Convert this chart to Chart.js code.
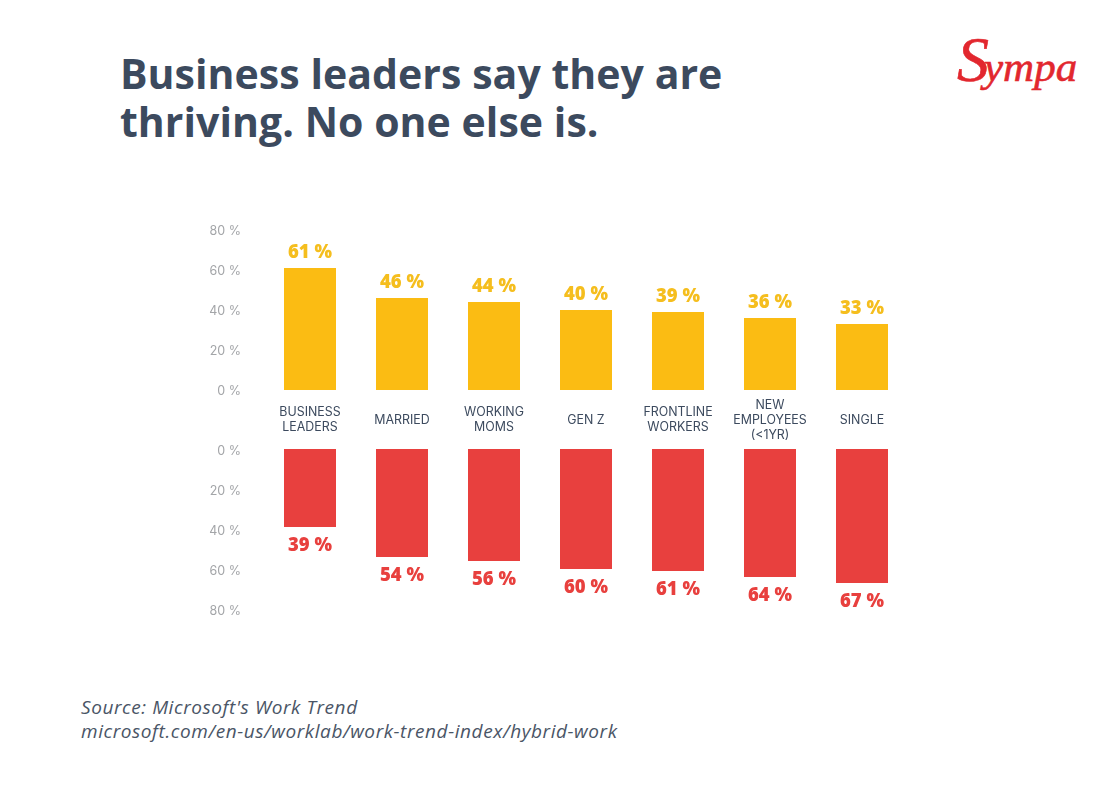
<!DOCTYPE html>
<html>
<head>
<meta charset="utf-8">
<title>Business leaders say they are thriving</title>
<script src="https://cdn.jsdelivr.net/npm/chart.js@4/dist/chart.umd.min.js"></script>
<style>
  html, body { margin: 0; padding: 0; background: #fff; }
  body { position: relative; width: 1118px; height: 801px; overflow: hidden; }
  canvas { position: absolute; left: 190px; }
  #chartTop { top: 220px; }
  #chartBottom { top: 439px; }
  h1 {
    position: absolute; left: 120px; top: 49px; margin: 0;
    font: 700 41px/48px "Open Sans", sans-serif; color: #3c4a5e;
    letter-spacing: 0.05px;
  }
  .logo {
    position: absolute; left: 957px; top: 30px;
    font: italic 400 43px/60px "Liberation Serif", serif; color: #e2272e;
    -webkit-text-stroke: 0.6px #e2272e;
    white-space: nowrap;
  }
  .logo span { font-size: 64px; margin-right: -5px; }
  .source {
    position: absolute; left: 81px; top: 695px;
    font: italic 400 19px/24px "Open Sans", sans-serif; color: #4a5566;
    letter-spacing: 0.58px;
  }
</style>
</head>
<body>
<h1>Business leaders say they are<br>thriving. No one else is.</h1>
<div class="logo"><span>S</span>ympa</div>
<canvas id="chartTop" width="730" height="220"></canvas>
<canvas id="chartBottom" width="730" height="180"></canvas>
<div class="source">Source: Microsoft's Work Trend<br>microsoft.com/en-us/worklab/work-trend-index/hybrid-work</div>

<script>
const categories = [
  ["BUSINESS", "LEADERS"],
  ["MARRIED"],
  ["WORKING", "MOMS"],
  ["GEN Z"],
  ["FRONTLINE", "WORKERS"],
  ["NEW", "EMPLOYEES", "(<1YR)"],
  ["SINGLE"],
];
const topValues = [61, 46, 44, 40, 39, 36, 33];
const bottomValues = [39, 54, 56, 60, 61, 64, 67];
const tickValues = [0, 20, 40, 60, 80];

const YELLOW = "#fbbc13";
const YELLOW_TEXT = "#f5be1e";
const RED = "#e8403e";

// value labels sit just past the end of each bar
const valueLabels = {
  id: "valueLabels",
  afterDatasetsDraw(chart, args, opts) {
    const { ctx } = chart;
    const meta = chart.getDatasetMeta(0);
    ctx.save();
    ctx.font = '800 18.5px "Open Sans", sans-serif';
    ctx.fillStyle = opts.color;
    ctx.textAlign = "center";
    ctx.textBaseline = "middle";
    meta.data.forEach((bar, i) => {
      ctx.fillText(chart.data.datasets[0].data[i] + " %", bar.x, bar.y + opts.offset);
    });
    ctx.restore();
  },
};

// category names go in the gap between the charts, centred on y=420
const categoryLabels = {
  id: "categoryLabels",
  afterDraw(chart, args, opts) {
    if (!opts.show) return;
    const { ctx, scales } = chart;
    ctx.save();
    ctx.font = '400 12.4px "Inter", sans-serif';
    ctx.fillStyle = "#3c4a5e";
    ctx.textAlign = "center";
    ctx.textBaseline = "middle";
    categories.forEach((lines, i) => {
      const x = scales.x.getPixelForValue(i);
      const startY = opts.centerY - ((lines.length - 1) * 15) / 2;
      lines.forEach((line, j) => ctx.fillText(line, x, startY + j * 15));
    });
    ctx.restore();
  },
};

function makeChart(id, values, color, textColor, reverse, labelOffset, bottomPad, tickShift, showCategories) {
  return new Chart(document.getElementById(id), {
    type: "bar",
    data: {
      labels: categories.map((c) => c.join(" ")),
      datasets: [{
        data: values,
        backgroundColor: color,
        categoryPercentage: 1,
        barPercentage: 52 / 92,
      }],
    },
    plugins: [valueLabels, categoryLabels],
    options: {
      responsive: false,
      animation: false,
      layout: { padding: { top: 10, bottom: bottomPad, right: 12, left: 0 } },
      plugins: {
        legend: { display: false },
        tooltip: { enabled: false },
        valueLabels: { color: textColor, offset: labelOffset },
        categoryLabels: { show: showCategories, centerY: 200 },
      },
      scales: {
        x: { display: false },
        y: {
          reverse: reverse,
          min: 0,
          max: 80,
          // tick padding would otherwise also inset the plot vertically
          afterFit(scale) {
            scale.width = 74;
            scale.paddingTop = 0;
            scale.paddingBottom = 0;
          },
          afterBuildTicks(scale) { scale.ticks = tickValues.map((v) => ({ value: v })); },
          grid: { display: false, drawTicks: false },
          border: { display: false },
          ticks: {
            padding: 23,
            labelOffset: tickShift,
            color: "#a3a5a8",
            font: { family: "Inter", size: 12.5 },
            callback: (v) => v + " %",
          },
        },
      },
    },
  });
}

makeChart("chartTop", topValues, YELLOW, YELLOW_TEXT, false, -15, 50, 1, true);
makeChart("chartBottom", bottomValues, RED, RED, true, 19, 10, 2, false);
</script>
</body>
</html>
